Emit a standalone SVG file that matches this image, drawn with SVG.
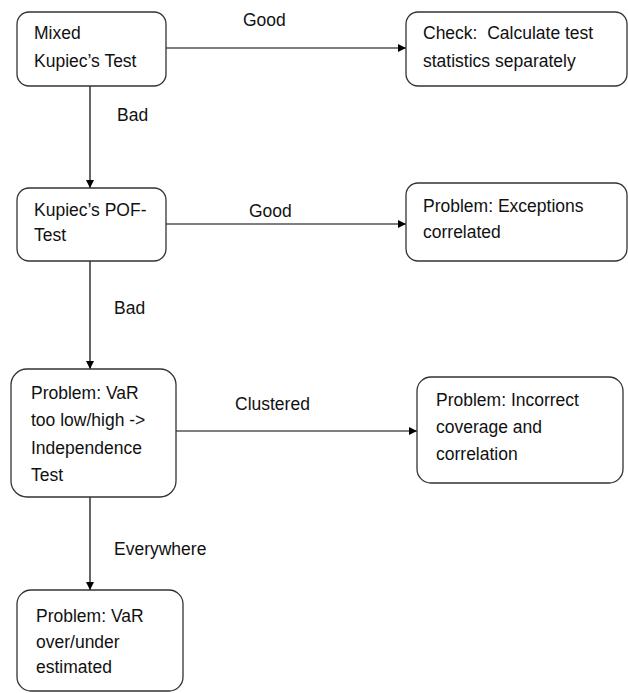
<svg xmlns="http://www.w3.org/2000/svg" width="628" height="693" viewBox="0 0 628 693">
<defs>
<marker id="arr" markerWidth="10" markerHeight="10" refX="9" refY="5" orient="auto" markerUnits="userSpaceOnUse">
<path d="M1,1 L9,5 L1,9 Z" fill="#000"/>
</marker>
<style>
.box{fill:#fff;stroke:#333;stroke-width:1.3}
.t{font-family:"Liberation Sans",Arial,sans-serif;font-size:17.5px;fill:#111;white-space:pre}
.c{stroke:#000;stroke-width:1.2;fill:none}
</style>
</defs>
<rect width="628" height="693" fill="#fff"/>
<g id="connectors">
<line class="c" x1="166" y1="48" x2="406" y2="48" marker-end="url(#arr)"/>
<line class="c" x1="90" y1="86" x2="90" y2="188" marker-end="url(#arr)"/>
<line class="c" x1="166" y1="224" x2="406" y2="224" marker-end="url(#arr)"/>
<line class="c" x1="90" y1="261" x2="90" y2="369" marker-end="url(#arr)"/>
<line class="c" x1="176" y1="431" x2="417" y2="431" marker-end="url(#arr)"/>
<line class="c" x1="90" y1="497" x2="90" y2="590" marker-end="url(#arr)"/>
<text class="t" x="243" y="26">Good</text>
<text class="t" x="117" y="121">Bad</text>
<text class="t" x="249" y="217">Good</text>
<text class="t" x="114" y="314">Bad</text>
<text class="t" x="235" y="410">Clustered</text>
<text class="t" x="114" y="555">Everywhere</text>
</g>
<g id="n1">
<rect class="box" x="17" y="12" width="149" height="74" rx="12"/>
<text class="t" x="34" y="39">Mixed</text>
<text class="t" x="34" y="67">Kupiec’s Test</text>
</g>
<g id="n2">
<rect class="box" x="406" y="12" width="221" height="74" rx="12"/>
<text class="t" x="423" y="39" xml:space="preserve">Check:  Calculate test</text>
<text class="t" x="423" y="67">statistics separately</text>
</g>
<g id="n3">
<rect class="box" x="17" y="188" width="149" height="73" rx="12"/>
<text class="t" x="34" y="216">Kupiec’s POF-</text>
<text class="t" x="34" y="241">Test</text>
</g>
<g id="n4">
<rect class="box" x="406" y="183" width="221" height="78" rx="12"/>
<text class="t" x="423" y="212">Problem: Exceptions</text>
<text class="t" x="423" y="238">correlated</text>
</g>
<g id="n5">
<rect class="box" x="11" y="369" width="165" height="128" rx="16"/>
<text class="t" x="31" y="399">Problem: VaR</text>
<text class="t" x="31" y="426">too low/high -&gt;</text>
<text class="t" x="31" y="454">Independence</text>
<text class="t" x="31" y="481">Test</text>
</g>
<g id="n6">
<rect class="box" x="417" y="377" width="206" height="106" rx="14"/>
<text class="t" x="436" y="406">Problem: Incorrect</text>
<text class="t" x="436" y="433">coverage and</text>
<text class="t" x="436" y="460">correlation</text>
</g>
<g id="n7">
<rect class="box" x="17" y="590" width="166" height="101" rx="14"/>
<text class="t" x="36" y="622">Problem: VaR</text>
<text class="t" x="36" y="648">over/under</text>
<text class="t" x="36" y="673">estimated</text>
</g>
</svg>
